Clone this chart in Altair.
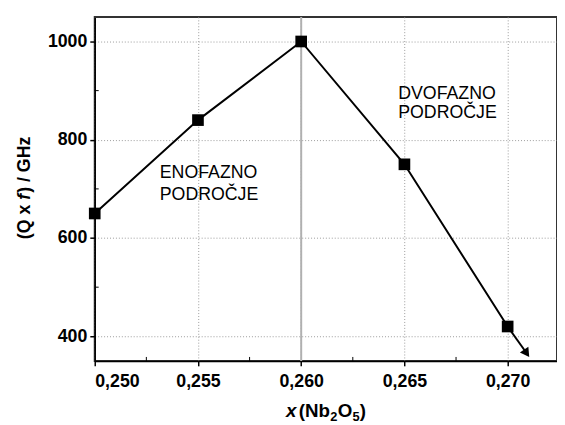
import altair as alt
import pandas as pd

# data
x_vals = [0.250, 0.255, 0.260, 0.265, 0.270]
qf_vals = [650, 840, 1000, 750, 420]
arrow_x = [0.270, 0.27088]
arrow_y = [420, 368]
x_ticks = [0.250, 0.255, 0.260, 0.265, 0.270]
y_ticks = [400, 600, 800, 1000]
x_minor = [0.2525, 0.2575, 0.2625, 0.2675]
y_minor = [500, 700, 900]
boundary_x = [0.260]
region_text = ["ENOFAZNO", "PODROČJE", "DVOFAZNO", "PODROČJE"]
region_x = [0.25315, 0.25315, 0.26470, 0.26470]
region_y = [723, 677, 883.5, 843.4]

FONT = "Liberation Sans"

xs = alt.Scale(domain=[0.250, 0.27239], nice=False, zero=False)
ys = alt.Scale(domain=[350, 1050], nice=False, zero=False)

x_axis = alt.Axis(values=x_ticks, labelExpr="replace(format(datum.value, '.3f'), '.', ',')",
                  grid=True, gridDash=[1, 2], gridColor="#9a9a9a", gridWidth=1, title=None,
                  labelPadding=7)
y_axis = alt.Axis(values=y_ticks, format="d", grid=True, gridDash=[1, 2], gridColor="#9a9a9a",
                  gridWidth=1, title=None, labelPadding=3)

def X(field="x"):
    return alt.X(f"{field}:Q", scale=xs, axis=x_axis)

def Y(field="y"):
    return alt.Y(f"{field}:Q", scale=ys, axis=y_axis)

df = pd.DataFrame({"x": x_vals, "y": qf_vals})
arrow_df = pd.DataFrame({"x": arrow_x, "y": arrow_y})
arrow_tip = arrow_df.iloc[[-1]]
xminor_df = pd.DataFrame({"x": x_minor})
yminor_df = pd.DataFrame({"y": y_minor})
bound_df = pd.DataFrame({"x": boundary_x})
reg_df = pd.DataFrame({"x": region_x, "y": region_y, "t": region_text})

boundary = alt.Chart(bound_df).mark_rule(color="#b0b0b0", strokeWidth=2).encode(x=X())
xminor = alt.Chart(xminor_df).mark_rule(color="black", strokeWidth=1).encode(
    x=X(), y=alt.value(349), y2=alt.value(345))
yminor = alt.Chart(yminor_df).mark_rule(color="black", strokeWidth=1).encode(
    y=Y(), x=alt.value(0), x2=alt.value(4))
line = alt.Chart(df).mark_line(color="black", strokeWidth=2).encode(x=X(), y=Y())
pts = alt.Chart(df).mark_square(color="black", size=140, opacity=1).encode(x=X(), y=Y())
arrow_line = alt.Chart(arrow_df).mark_line(color="black", strokeWidth=2).encode(x=X(), y=Y())
arrow_head = alt.Chart(arrow_tip).mark_point(shape="triangle", angle=145, size=110, filled=True,
                                             color="black", opacity=1).encode(x=X(), y=Y())
regions = alt.Chart(reg_df).mark_text(font=FONT, fontSize=18, align="left",
                                      baseline="alphabetic", color="black").encode(
    x=X(), y=Y(), text="t:N")

def piece(txt, px, py, size=18, italic=False, angle=0):
    kw = dict(font=FONT, fontSize=size, fontWeight="bold", align="left",
              color="black")
    if italic:
        kw["fontStyle"] = "italic"
    if angle:
        kw["angle"] = angle
        kw["baseline"] = "middle"
    else:
        kw["baseline"] = "alphabetic"
    return alt.Chart(pd.DataFrame({"t": [txt]})).mark_text(**kw).encode(
        text="t:N", x=alt.value(px), y=alt.value(py))

xtitle = [
    piece("x", 194, 406, size=19, italic=True),
    piece("(Nb", 207, 406, size=19),
    piece("2", 239, 410, size=13),
    piece("O", 246.5, 406, size=19),
    piece("5", 261.5, 410, size=13),
    piece(")", 269, 406, size=19),
]
ytitle = [
    piece("(Q x", -71, 225.5, angle=270),
    piece("f", -71, 185.5, italic=True, angle=270),
    piece(") / GHz", -71, 178.5, angle=270),
]

chart = alt.layer(boundary, line, arrow_line, arrow_head, pts, xminor, yminor, regions,
                  *xtitle, *ytitle).properties(
    width=469, height=349,
    padding={"left": 88, "top": 6, "right": 0, "bottom": 62},
    autosize="none",
).configure_view(stroke="#333333", strokeWidth=2).configure_axis(
    labelFont=FONT, labelFontSize=18, labelFontWeight="bold", labelColor="black",
    domainColor="black", domainWidth=1.5, tickColor="black", tickWidth=1.5, tickSize=5,
)

chart.save("out.html", embed_options={"renderer": "svg", "actions": False})
